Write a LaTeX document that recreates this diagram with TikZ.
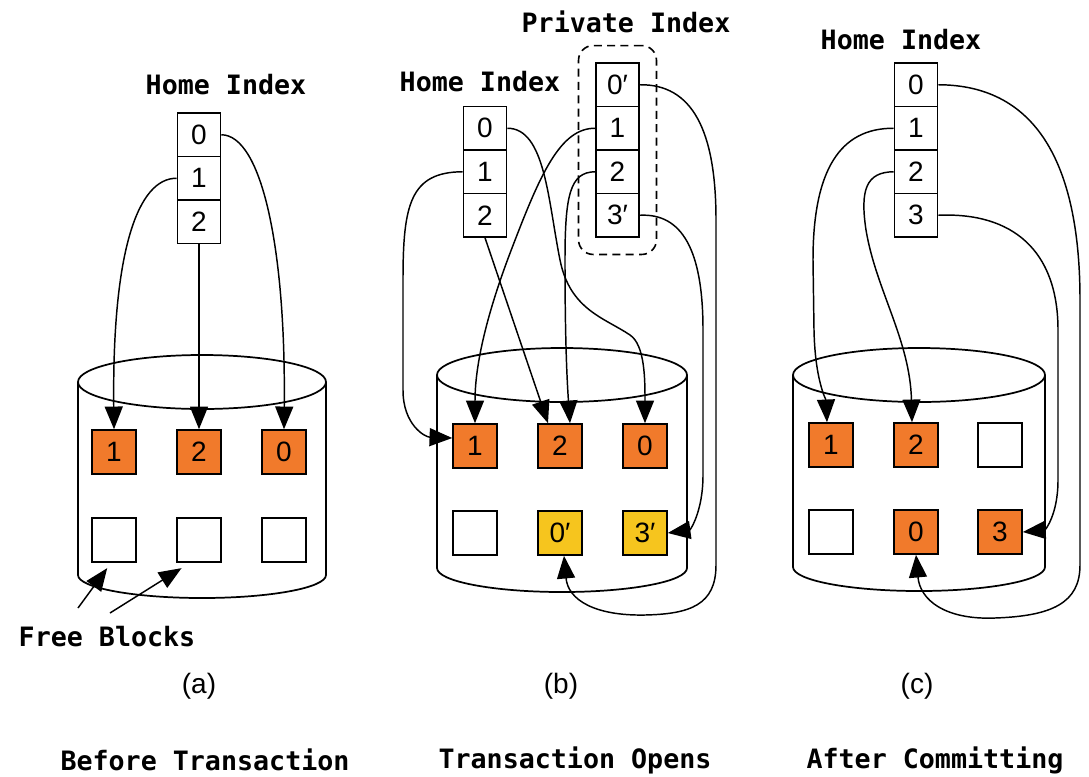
\documentclass[tikz,border=0pt]{standalone}
\usepackage{fontspec}
\setmainfont{Liberation Sans}
\newfontfamily\gothic{DejaVu Sans Mono}
\usetikzlibrary{arrows.meta,calc,fit}

\definecolor{blockorange}{RGB}{241,122,43}
\definecolor{blockyellow}{RGB}{246,197,30}

\begin{document}
\begin{tikzpicture}[x=0.75pt,y=-0.75pt,
  cell/.style={draw, line width=1.2pt, minimum width=32.25pt, minimum height=32.6pt,
               inner sep=0pt, font=\fontsize{21}{21}\selectfont},
  blk/.style={draw, line width=1.2pt, minimum size=33pt, inner sep=0pt,
              font=\fontsize{21}{21}\selectfont},
  used/.style={blk, fill=blockorange},
  shadow/.style={blk, fill=blockyellow},
  title/.style={font=\gothic\bfseries\fontsize{20}{20}\selectfont, inner sep=0pt},
  caption/.style={font=\fontsize{21}{21}\selectfont, inner sep=0pt},
  link/.style={line width=1.1pt, -{Triangle[length=17pt,width=13.5pt]}},
  disk/.style={line width=1.3pt},
  group/.style={draw, dashed, line width=1.2pt, dash pattern=on 6pt off 4pt,
                rounded corners=11pt, inner sep=12.5pt}
]
\useasboundingbox (0,0) rectangle (1089,776);

% ---------- (a) before the transaction ----------
\draw[disk] (202,382) ellipse[x radius=124, y radius=27];
\draw[disk] (78,382) -- (78,575) arc[start angle=180, end angle=0, x radius=124, y radius=23] -- (326,382);

\node[title] (ha) at (226,85) {Home Index};
\node[cell] (ia0) at (199,134.75) {0};
\node[cell] (ia1) at (199,178.25) {1};
\node[cell] (ia2) at (199,221.75) {2};

\node[used] (ba1) at (114,452) {1};
\node[used] (ba2) at (199,452) {2};
\node[used] (ba0) at (284,452) {0};
\node[blk] (fa1) at (114,540) {};
\node[blk] (fa2) at (199,540) {};
\node[blk] (fa3) at (284,540) {};

\draw[link] (ia0.east) .. controls (262,135) and (286,250) .. (ba0.north);
\draw[link] (ia1.west) .. controls (138,178) and (112,250) .. (ba1.north);
\draw[link] (ia2.south) -- (ba2.north);

\node[title] (free) at (107,637) {Free Blocks};
\coordinate (fr1) at (78,608);
\coordinate (fr2) at (110,613);
\draw[link] (fr1) -- ([xshift=12pt,yshift=-4pt]fa1.south west);
\draw[link] (fr2) -- ([xshift=4pt,yshift=-4pt]fa2.south west);

\node[caption] (capa) at (199,686) {(a)};
\node[title] (ta) at (205,760) {Before Transaction};

% ---------- (b) the transaction is open ----------
\draw[disk] (562,375) ellipse[x radius=125, y radius=27];
\draw[disk] (437,375) -- (437,568) arc[start angle=180, end angle=0, x radius=125, y radius=24] -- (687,375);

\node[title] (hb) at (480,82) {Home Index};
\node[cell] (ib0) at (485,128.25) {0};
\node[cell] (ib1) at (485,171.75) {1};
\node[cell] (ib2) at (485,215.25) {2};

\node[title] (pt) at (626,22) {Private Index};
\node[cell] (pb0) at (617.5,84.75) {0′};
\node[cell] (pb1) at (617.5,128.25) {1};
\node[cell] (pb2) at (617.5,171.75) {2};
\node[cell] (pb3) at (617.5,215.25) {3′};
\node[group, fit=(pb0)(pb3)] (pbox) {};

\node[used] (bb1) at (475,446) {1};
\node[used] (bb2) at (560,446) {2};
\node[used] (bb0) at (645,446) {0};
\node[blk] (bbe) at (475,533) {};
\node[shadow] (bby0) at (560,533) {0′};
\node[shadow] (bby3) at (645,533) {3′};

\draw[link] (ib0.east) .. controls (545,128) and (548,200) .. (560,260)
  .. controls (570,310) and (605,318) .. (630,335)
  .. controls (645,345) and (645,380) .. (bb0.north);
\draw[link] (ib1.west) .. controls (410,172) and (403,205) .. (403,280) -- (403,390)
  .. controls (403,425) and (425,437) .. ([yshift=6pt]bb1.west);
\draw[link] (ib2.south) -- ([xshift=-9pt]bb2.north);
\draw[link] (pb1.west) .. controls (560,128) and (540,175) .. (512,248)
  .. controls (490,305) and (475,360) .. (bb1.north);
\draw[link] (pb2.west) .. controls (570,172) and (565,195) .. (565,260)
  .. controls (565,340) and (567,380) .. ([xshift=7.5pt]bb2.north);
\draw[link] (pb3.east) .. controls (682,213) and (703,250) .. (703,330) -- (703,475)
  .. controls (703,512) and (690,530) .. (bby3.east);
\draw[link] (pb0.east) .. controls (692,84) and (716,130) .. (716,220) -- (716,565)
  .. controls (716,605) and (690,614) .. (645,615)
  .. controls (595,616) and (568,600) .. ([xshift=3pt]bby0.south);

\node[caption] (capb) at (561,686) {(b)};
\node[title] (tb) at (575,760) {Transaction Opens};

% ---------- (c) after committing ----------
\draw[disk] (919,375) ellipse[x radius=126, y radius=27];
\draw[disk] (793,375) -- (793,567) arc[start angle=180, end angle=0, x radius=126, y radius=24] -- (1045,375);

\node[title] (hc) at (901,40) {Home Index};
\node[cell] (ic0) at (916,84.75) {0};
\node[cell] (ic1) at (916,128.25) {1};
\node[cell] (ic2) at (916,171.75) {2};
\node[cell] (ic3) at (916,215.25) {3};

\node[used] (bc1) at (831,445) {1};
\node[used] (bc2) at (916,445) {2};
\node[blk] (bce1) at (1000,445) {};
\node[blk] (bce2) at (831,532) {};
\node[used] (bc0) at (916,532) {0};
\node[used] (bc3) at (1000,532) {3};

\draw[link] (ic1.west) .. controls (840,128) and (813,170) .. (813,260) -- (814,330)
  .. controls (815,380) and (826,400) .. ([xshift=-3pt]bc1.north);
\draw[link] (ic2.west) .. controls (866,172) and (860,190) .. (866,230)
  .. controls (876,290) and (910,340) .. ([xshift=-3pt]bc2.north);
\draw[link] (ic3.east) .. controls (1012,212) and (1058,250) .. (1058,330) -- (1058,480)
  .. controls (1058,515) and (1045,530) .. (bc3.east);
\draw[link] (ic0.east) .. controls (1040,85) and (1080,170) .. (1080,300) -- (1080,565)
  .. controls (1080,603) and (1052,616) .. (995,618)
  .. controls (945,620) and (920,600) .. (bc0.south);

\node[caption] (capc) at (917,686) {(c)};
\node[title] (tc) at (935,760) {After Committing};
\end{tikzpicture}
\end{document}
